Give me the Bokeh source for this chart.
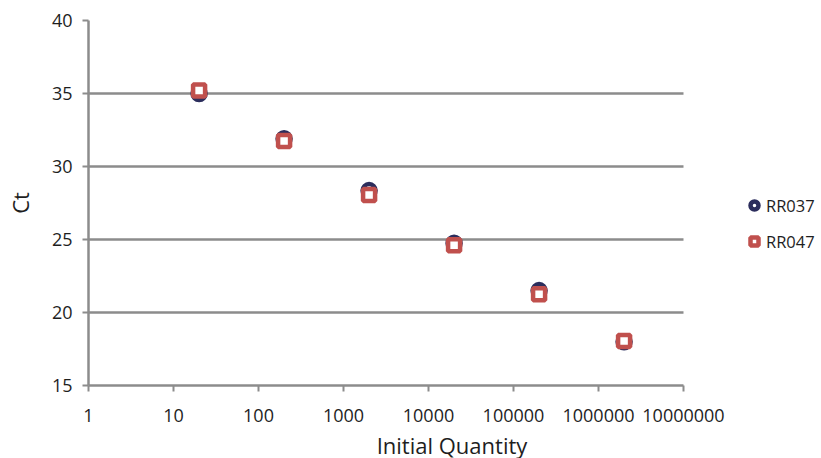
from bokeh.plotting import figure
from bokeh.models import Legend, LegendItem, FixedTicker, CustomJSTickFormatter, Range1d
from bokeh.embed import file_html
from bokeh.resources import INLINE

quantity = [20, 200, 2000, 20000, 200000, 2000000]
ct_rr037 = [35.0, 31.9, 28.35, 24.75, 21.5, 18.0]
ct_rr047 = [35.2, 31.75, 28.05, 24.6, 21.25, 18.05]
x_ticks = [1, 10, 100, 1000, 10000, 100000, 1000000, 10000000]
y_ticks = [15, 20, 25, 30, 35, 40]

FONT = "Open Sans"
GRID = "#8C8C8C"
TXT = "#1E1E1E"

# plotting area covers 1..1e7 over 595 px; extra frame room on the right holds the legend
AXIS_PX = 595
FRAME_PX = 727
x_end = 10 ** (7 * FRAME_PX / AXIS_PX)

p = figure(x_axis_type="log", x_range=Range1d(1, x_end), y_range=Range1d(15, 40),
           frame_width=FRAME_PX, frame_height=365,
           min_border_left=88, min_border_top=20, min_border_bottom=70, min_border_right=0,
           output_backend="svg", toolbar_location=None)
p.outline_line_color = None
p.background_fill_color = "white"

r1 = p.scatter(quantity, ct_rr037, marker="circle", size=13, line_width=4.5,
               line_color="#2B2D5C", fill_color="white")
r2 = p.scatter(quantity, ct_rr047, marker="square", size=12, line_width=4.5,
               line_color="#C0504D", fill_color="white")

p.xaxis.ticker = FixedTicker(ticks=x_ticks)
p.xaxis.formatter = CustomJSTickFormatter(code="return tick.toFixed(0);")
p.xaxis.bounds = (1, 1e7)
p.yaxis.ticker = FixedTicker(ticks=y_ticks)

for ax in (p.xaxis[0], p.yaxis[0]):
    ax.axis_line_color = GRID
    ax.axis_line_width = 2.5
    ax.major_tick_line_color = GRID
    ax.major_tick_line_width = 2
    ax.major_tick_out = 6
    ax.major_tick_in = 0
    ax.minor_tick_line_color = None
    ax.major_label_text_font = FONT
    ax.major_label_text_font_size = "18px"
    ax.major_label_text_color = TXT
    ax.axis_label_text_font = FONT
    ax.axis_label_text_font_size = "22px"
    ax.axis_label_text_font_style = "normal"
    ax.axis_label_text_color = TXT

p.xaxis.axis_label = "Initial Quantity"
p.yaxis.axis_label = "Ct"
p.xaxis.major_label_standoff = 17
p.yaxis.major_label_standoff = 10
p.xaxis.axis_label_standoff = 5
p.yaxis.axis_label_standoff = 14

p.xgrid.grid_line_color = None
p.ygrid.grid_line_color = GRID
p.ygrid.grid_line_width = 2.5
p.ygrid.cross_bounds = (1, 1e7)

legend = Legend(items=[LegendItem(label="RR037", renderers=[r1]),
                       LegendItem(label="RR047", renderers=[r2])],
                location=(656, 131), orientation="vertical",
                background_fill_alpha=0, border_line_color=None,
                label_text_font=FONT, label_text_font_size="16.5px", label_text_color=TXT,
                glyph_width=20, glyph_height=26, spacing=10, padding=0, margin=0,
                label_standoff=2)
p.add_layout(legend, "center")

open("out.html", "w").write(file_html(p, INLINE))
